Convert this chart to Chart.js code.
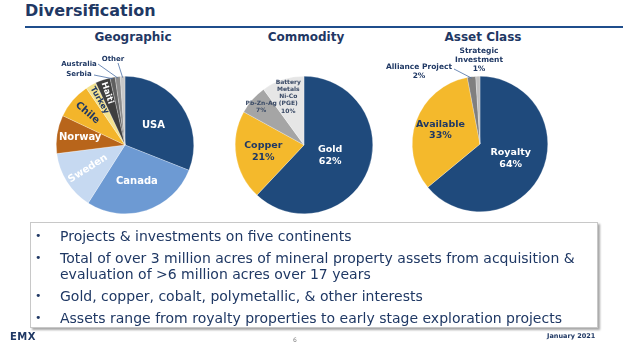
<!DOCTYPE html>
<html lang="en">
<head>
<meta charset="UTF-8">
<title>Diversification</title>
<script src="https://cdn.jsdelivr.net/npm/chart.js"></script>
<style>
    body {
        margin: 0;
        width: 623px;
        height: 351px;
        position: relative;
        overflow: hidden;
        background: #ffffff;
        font-family: 'DejaVu Sans', sans-serif;
        color: #1f3864;
    }
    .title {
        position: absolute;
        left: 25px;
        top: 0;
        font-size: 16px;
        font-weight: bold;
        line-height: 22px;
    }
    .rule {
        position: absolute;
        left: 25px;
        top: 26px;
        width: 598px;
        height: 2px;
        background: #1f4e8c;
    }
    .sub {
        position: absolute;
        top: 29px;
        width: 120px;
        font-size: 12px;
        font-weight: bold;
        line-height: 16px;
        text-align: center;
    }
    canvas { position: absolute; }
    .box {
        position: absolute;
        left: 30px;
        top: 222px;
        width: 566px;
        height: 104px;
        border: 1px solid #c8c8c8;
        box-shadow: 2px 2px 2px #a8a8a8;
        background: #fff;
    }
    .box ul {
        list-style: none;
        margin: 0;
        padding: 5px 0 0 0;
    }
    .box li {
        position: relative;
        padding-left: 29px;
        font-size: 14px;
        line-height: 16px;
        margin-bottom: 6px;
        white-space: nowrap;
        color: #1f3864;
    }
    .box li::before {
        content: '\2022';
        position: absolute;
        left: 4px;
        font-size: 11px;
    }
    .emx {
        position: absolute;
        left: 10px;
        top: 331px;
        font-size: 10px;
        font-weight: bold;
        color: #1f3864;
        letter-spacing: 0.5px;
    }
    .page {
        position: absolute;
        left: 293px;
        top: 336px;
        font-size: 6px;
        color: #7f7f7f;
    }
    .date {
        position: absolute;
        left: 547px;
        top: 332px;
        font-size: 6.5px;
        font-weight: bold;
        color: #1f3864;
    }
</style>
</head>
<body>
    <div class="title">Diversification</div>
    <div class="rule"></div>
    <div class="sub" style="left:73px">Geographic</div>
    <div class="sub" style="left:246px">Commodity</div>
    <div class="sub" style="left:423px">Asset Class</div>

    <canvas id="geoChart" width="180" height="200" style="left:35px;top:45px"></canvas>
    <canvas id="commodityChart" width="180" height="200" style="left:214px;top:45px"></canvas>
    <canvas id="assetChart" width="200" height="200" style="left:380px;top:44px"></canvas>

    <div class="box">
        <ul>
            <li>Projects &amp; investments on five continents</li>
            <li>Total of over 3 million acres of mineral property assets from acquisition &amp;<br>evaluation of &gt;6 million acres over 17 years</li>
            <li>Gold, copper, cobalt, polymetallic, &amp; other interests</li>
            <li>Assets range from royalty properties to early stage exploration projects</li>
        </ul>
    </div>
    <div class="emx">EMX</div>
    <div class="page">6</div>
    <div class="date">January 2021</div>

<script>
    // geographic split
    const geoLabels = ['USA', 'Canada', 'Sweden', 'Norway', 'Chile', 'Turkey', 'Haiti', 'Serbia', 'Australia', 'Other'];
    const geoValues = [31, 28, 14, 9, 8.5, 2.5, 3.5, 1.2, 1.2, 1.1];
    const geoColors = ['#1f4a7c', '#6d9ad3', '#c6d9f1', '#b8651b', '#f3b52b', '#f3e28f', '#3f3f3f', '#5f5f5f', '#8c8c8c', '#c8c8c8'];

    // commodity split
    const commodityLabels = ['Gold', 'Copper', 'Pb-Zn-Ag', 'Battery\nMetals\nNi-Co\n(PGE)'];
    const commodityValues = [62, 21, 7, 10];
    const commodityColors = ['#1f4a7c', '#f4b92c', '#a5a5a5', '#e6e6e6'];

    // asset class split
    const assetLabels = ['Royalty', 'Available', 'Alliance Project', 'Strategic\nInvestment'];
    const assetValues = [64, 33, 2, 1];
    const assetColors = ['#1f4a7c', '#f4b92c', '#7f7f7f', '#bfbfbf'];

    const NAVY = '#1f3864';
    const GREYTXT = '#3a4a66';

    // draws the slice labels; inside ones sit on the slice bisector,
    // outside ones get a leader line back to the slice
    const sliceLabels = {
        id: 'sliceLabels',
        afterDatasetsDraw(chart, args, opts) {
            const ctx = chart.ctx;
            const arcs = chart.getDatasetMeta(0).data;
            opts.items.forEach((it, i) => {
                const p = arcs[i].getProps(['x', 'y', 'startAngle', 'endAngle', 'outerRadius'], true);
                const mid = (p.startAngle + p.endAngle) / 2;
                let tx, ty;
                if (it.out) {
                    tx = p.x + it.out[0];
                    ty = p.y + it.out[1];
                } else {
                    tx = p.x + Math.cos(mid) * p.outerRadius * it.r;
                    ty = p.y + Math.sin(mid) * p.outerRadius * it.r;
                }
                if (it.lead) {
                    ctx.save();
                    ctx.strokeStyle = '#4a6fa5';
                    ctx.lineWidth = 0.8;
                    ctx.beginPath();
                    ctx.moveTo(p.x + it.lead[0], p.y + it.lead[1]);
                    ctx.lineTo(p.x + Math.cos(mid) * p.outerRadius * 0.98, p.y + Math.sin(mid) * p.outerRadius * 0.98);
                    ctx.stroke();
                    ctx.restore();
                }
                ctx.save();
                ctx.translate(tx, ty);
                if (it.rot) {
                    let a = mid;
                    if (Math.cos(a) < 0) a += Math.PI;
                    ctx.rotate(a);
                }
                ctx.font = 'bold ' + it.size + 'px "DejaVu Sans"';
                ctx.fillStyle = it.color;
                ctx.textAlign = 'center';
                ctx.textBaseline = 'middle';
                const lh = it.size * 1.2;
                it.lines.forEach((l, k) => {
                    ctx.fillText(l, 0, (k - (it.lines.length - 1) / 2) * lh);
                });
                ctx.restore();
            });
        }
    };

    function withPct(labels, values) {
        return labels.map((l, i) => l.split('\n').concat(values[i] + '%'));
    }

    function makePie(id, labels, values, colors, items, pad) {
        new Chart(document.getElementById(id), {
            type: 'pie',
            data: {
                labels: labels,
                datasets: [{
                    data: values,
                    backgroundColor: colors,
                    borderColor: 'rgba(255,255,255,0.5)',
                    borderWidth: 0.5
                }]
            },
            options: {
                responsive: false,
                animation: false,
                layout: { padding: pad },
                plugins: {
                    legend: { display: false },
                    tooltip: { enabled: false },
                    sliceLabels: { items: items }
                }
            },
            plugins: [sliceLabels]
        });
    }

    const geoItems = [
        { lines: [geoLabels[0]], r: 0.5, size: 10, color: '#fff' },
        { lines: [geoLabels[1]], r: 0.56, size: 10, color: '#fff' },
        { lines: [geoLabels[2]], r: 0.64, size: 10, color: '#fff', rot: true },
        { lines: [geoLabels[3]], r: 0.66, size: 10, color: '#fff' },
        { lines: [geoLabels[4]], r: 0.72, size: 10, color: NAVY, rot: true },
        { lines: [geoLabels[5]], r: 0.75, size: 8, color: NAVY, rot: true },
        { lines: [geoLabels[6]], r: 0.8, size: 8.5, color: '#fff', rot: true },
        { lines: [geoLabels[7]], out: [-46, -71], lead: [-31, -70], size: 7, color: NAVY },
        { lines: [geoLabels[8]], out: [-46, -81], lead: [-27, -81], size: 7, color: NAVY },
        { lines: [geoLabels[9]], out: [-12, -86], lead: [-7, -82], size: 7, color: NAVY }
    ];

    const cLines = withPct(commodityLabels, commodityValues);
    const commodityItems = [
        { lines: cLines[0], r: 0.41, size: 9.5, color: '#fff' },
        { lines: cLines[1], r: 0.6, size: 9.5, color: NAVY },
        { lines: cLines[2], r: 0.83, size: 6, color: GREYTXT },
        { lines: cLines[3], r: 0.74, size: 6, color: GREYTXT }
    ];

    const aLines = withPct(assetLabels, assetValues);
    const assetItems = [
        { lines: aLines[0], r: 0.5, size: 9.5, color: '#fff' },
        { lines: aLines[1], r: 0.62, size: 9.5, color: NAVY },
        { lines: aLines[2], out: [-61, -72], lead: [-26, -75], size: 7.5, color: NAVY },
        { lines: aLines[3], out: [-1, -84], size: 7.5, color: NAVY }
    ];

    makePie('geoChart', geoLabels, geoValues, geoColors, geoItems, { left: 21, right: 21, top: 31, bottom: 31 });
    makePie('commodityChart', commodityLabels, commodityValues, commodityColors, commodityItems, { left: 21, right: 21, top: 31, bottom: 31 });
    makePie('assetChart', assetLabels, assetValues, assetColors, assetItems, { left: 32, right: 32, top: 32, bottom: 32 });
</script>
</body>
</html>
